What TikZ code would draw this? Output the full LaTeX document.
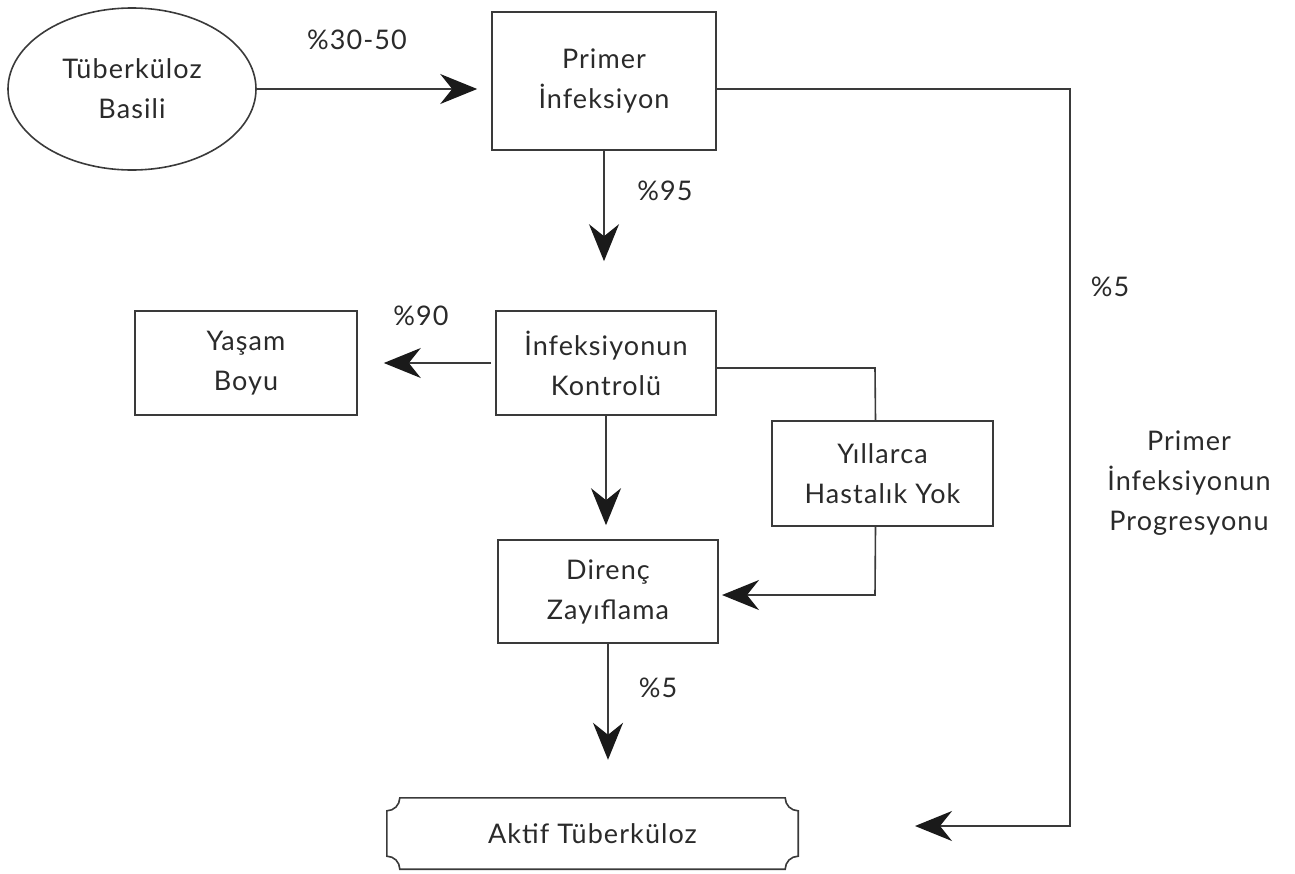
\documentclass[tikz,border=0pt]{standalone}
\usepackage{fontspec}
\setmainfont{Lato}[LetterSpace=4]
\usetikzlibrary{arrows.meta,calc,shapes.geometric}
\definecolor{ink}{HTML}{3A3A3A}
\definecolor{txt}{HTML}{2A2A2A}
\definecolor{head}{HTML}{1A1A1A}
\tikzset{
  base/.style={text=txt, font=\fontsize{27}{40}\selectfont, align=center},
  box/.style={base, draw=ink, line width=1.6pt, rectangle, inner sep=0pt},
  ell/.style={base, draw=ink, line width=1.6pt, ellipse, inner sep=0pt},
  lbl/.style={base},
  conn/.style={draw=ink, line width=1.6pt},
  arr/.style={conn, -{Stealth[length=37pt, width=30pt, inset=12pt, head]}},
}
\begin{document}
\begin{tikzpicture}[x=1pt,y=-1pt]
\useasboundingbox (0,0) rectangle (1295,873);
% nodes
\node[ell, minimum width=248, minimum height=162] (tb) at (132,89) {Tüberküloz\\Basili};
\node[box, minimum width=224, minimum height=138] (pi) at (604,81) {Primer\\İnfeksiyon};
\node[box, minimum width=220, minimum height=104] (ik) at (606,363) {İnfeksiyonun\\Kontrolü};
\node[box, minimum width=222, minimum height=104] (yb) at (246,363) {Yaşam\\Boyu};
\node[box, minimum width=221, minimum height=105] (yh) at (882.5,473.5) {Yıllarca\\Hastalık Yok};
\node[box, minimum width=220, minimum height=103] (dz) at (608,591.5) {Direnç\\Zayıflama};
\node[base, minimum width=411, minimum height=71, inner sep=0pt] (at) at (592.5,833.5) {Aktif Tüberküloz};
% scooped frame of Aktif Tüberküloz
\def\r{13}
\draw[conn]
  ($(at.north west)+(\r,0)$) -- ($(at.north east)+(-\r,0)$)
  .. controls ($(at.north east)+(-\r,0.552*\r)$) and ($(at.north east)+(-0.552*\r,\r)$) .. ($(at.north east)+(0,\r)$)
  -- ($(at.south east)+(0,-\r)$)
  .. controls ($(at.south east)+(-0.552*\r,-\r)$) and ($(at.south east)+(-\r,-0.552*\r)$) .. ($(at.south east)+(-\r,0)$)
  -- ($(at.south west)+(\r,0)$)
  .. controls ($(at.south west)+(\r,-0.552*\r)$) and ($(at.south west)+(0.552*\r,-\r)$) .. ($(at.south west)+(0,-\r)$)
  -- ($(at.north west)+(0,\r)$)
  .. controls ($(at.north west)+(0.552*\r,\r)$) and ($(at.north west)+(\r,0.552*\r)$) .. ($(at.north west)+(\r,0)$) -- cycle;
% labels
\node[lbl] (l1) at (357,40) {\%30-50};
\node[lbl] (l2) at (665,191) {\%95};
\node[lbl] (l3) at (421,316) {\%90};
\node[lbl] (l4) at (658,688) {\%5};
\node[lbl] (l5) at (1110,287) {\%5};
\node[lbl] (l6) at (1189,483) {Primer\\İnfeksiyonun\\Progresyonu};
% helper coordinates
\coordinate (c1) at (1070,89);
\coordinate (c2) at (1070,826);
\coordinate (tipA) at (915,826);
\coordinate (yt) at ($(yh.north)+(-7,0)$);
\coordinate (ys) at ($(yh.south)+(-7,0)$);
\coordinate (c3) at (875,368);
\coordinate (c4) at (875,595);
\coordinate (tipD) at (722,595);
% connectors
\draw[arr, shorten >=14pt] (tb.east) -- (tb.east -| pi.west);
\draw[arr] ($(pi.east)+(0,8)$) -- (c1) -- (c2) -- (tipA);
\draw[arr, shorten >=49pt] (pi.south) -- (pi.south |- ik.north);
\draw[arr, shorten <=4pt, shorten >=26pt] (ik.west) -- (ik.west -| yb.east);
\draw[conn] ($(ik.east)+(0,5)$) -- (c3) -- (yt);
\draw[arr] (ys) -- (c4) -- (tipD);
\draw[arr, shorten >=14pt] (ik.south) -- (ik.south |- dz.north);
\draw[arr, shorten >=38pt] (dz.south) -- (dz.south |- at.north);
\end{tikzpicture}
\end{document}
